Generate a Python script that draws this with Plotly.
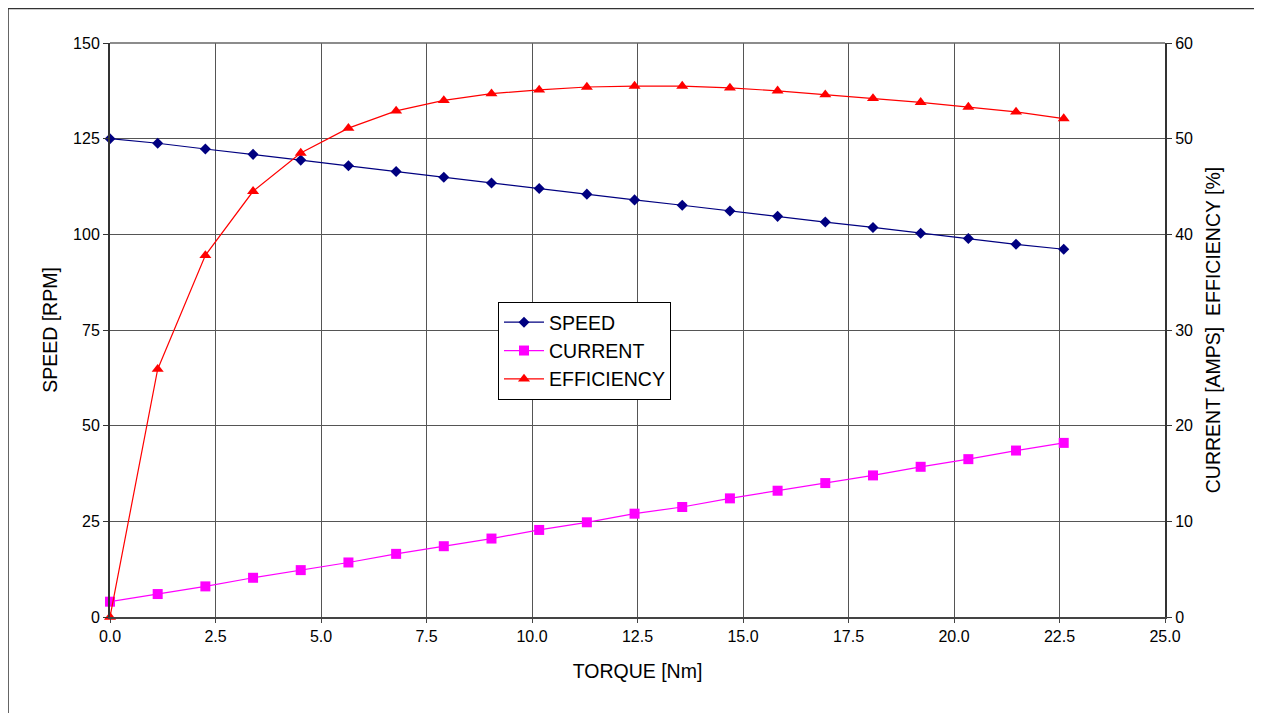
import plotly.graph_objects as go

torque = [0.0, 1.13, 2.26, 3.39, 4.52, 5.65, 6.78, 7.91, 9.04, 10.17, 11.3,
          12.43, 13.56, 14.69, 15.82, 16.95, 18.08, 19.21, 20.34, 21.47, 22.6]
speed = [125.0, 123.8, 122.3, 120.9, 119.4, 117.9, 116.4, 114.9, 113.4, 112.0, 110.5,
         109.0, 107.6, 106.1, 104.7, 103.2, 101.8, 100.3, 98.9, 97.4, 96.1]
current = [1.6, 2.4, 3.2, 4.1, 4.9, 5.7, 6.6, 7.4, 8.2, 9.1, 9.9,
           10.8, 11.5, 12.4, 13.2, 14.0, 14.8, 15.7, 16.5, 17.4, 18.2]
efficiency = [0.0, 25.9, 37.8, 44.5, 48.5, 51.1, 52.9, 54.0, 54.7, 55.1, 55.4,
              55.5, 55.5, 55.3, 55.0, 54.6, 54.2, 53.8, 53.3, 52.8, 52.1]

x_ticks = [0, 2.5, 5, 7.5, 10, 12.5, 15, 17.5, 20, 22.5, 25]
y1_ticks = [0, 25, 50, 75, 100, 125, 150]
y2_ticks = [0, 10, 20, 30, 40, 50, 60]

font = "Liberation Sans, Arial, sans-serif"

# page body has an 8px margin; figure is sized/margined to compensate
W, H = 1254, 705
L, R, T, B = 102, 97, 35, 96
PW, PH = W - L - R, H - T - B

fig = go.Figure()
fig.add_trace(go.Scatter(x=torque, y=speed, name="SPEED", mode="lines+markers",
                         line=dict(color="#000080", width=1.2),
                         marker=dict(symbol="diamond", size=8.5, color="#000080"),
                         yaxis="y", cliponaxis=False))
fig.add_trace(go.Scatter(x=torque, y=current, name="CURRENT", mode="lines+markers",
                         line=dict(color="#FF00FF", width=1.2),
                         marker=dict(symbol="square", size=10, color="#FF00FF"),
                         yaxis="y2", cliponaxis=False))
fig.add_trace(go.Scatter(x=torque, y=efficiency, name="EFFICIENCY", mode="lines+markers",
                         line=dict(color="#FF0000", width=1.2),
                         marker=dict(symbol="triangle-up", size=10.5, color="#FF0000"),
                         yaxis="y2", cliponaxis=False))

fig.update_layout(
    width=W, height=H,
    margin=dict(l=L, r=R, t=T, b=B),
    paper_bgcolor="white", plot_bgcolor="white",
    font=dict(family=font, color="black", size=16),
    showlegend=True,
    legend=dict(x=(498 - 110) / PW, y=(617 - 302) / PH, xanchor="left", yanchor="top",
                bordercolor="black", borderwidth=1, bgcolor="white",
                font=dict(size=19.5, family=font), tracegroupgap=0, itemwidth=40),
    xaxis=dict(range=[0, 25], tickvals=x_ticks, tickformat=".1f",
               showgrid=True, gridcolor="#555555", gridwidth=1.2,
               showline=True, linecolor="#444444", linewidth=2, mirror=False,
               ticks="outside", ticklen=4, tickcolor="#444444",
               zeroline=False,
               title=dict(text="TORQUE [Nm]", font=dict(size=19.5), standoff=20),
               tickfont=dict(size=16)),
    yaxis=dict(range=[0, 150], tickvals=y1_ticks,
               showgrid=True, gridcolor="#555555", gridwidth=1.2,
               showline=True, linecolor="#333333", linewidth=2,
               ticks="outside", ticklen=5, tickcolor="#333333",
               zeroline=False,
               title=dict(text="SPEED [RPM]", font=dict(size=19.5), standoff=10),
               tickfont=dict(size=16)),
    yaxis2=dict(range=[0, 60], tickvals=y2_ticks, overlaying="y", side="right",
                showgrid=False, showline=True, linecolor="#333333", linewidth=2,
                ticks="outside", ticklen=5, tickcolor="#333333",
                zeroline=False,
                title=dict(text="CURRENT [AMPS]  EFFICIENCY [%]", font=dict(size=19.5), standoff=14),
                tickfont=dict(size=16)),
    shapes=[
        dict(type="rect", xref="paper", yref="paper",
             x0=(0 - L) / PW, x1=(1248 - L) / PW,
             y0=(PH + T - H - 20) / PH, y1=(PH + T - 0.5) / PH,
             line=dict(color="#333333", width=1.5), layer="below"),
        dict(type="line", xref="paper", yref="paper", x0=0, x1=1, y0=1, y1=1,
             line=dict(color="#666666", width=1.5)),
    ],
)

fig.write_html("out.html")
